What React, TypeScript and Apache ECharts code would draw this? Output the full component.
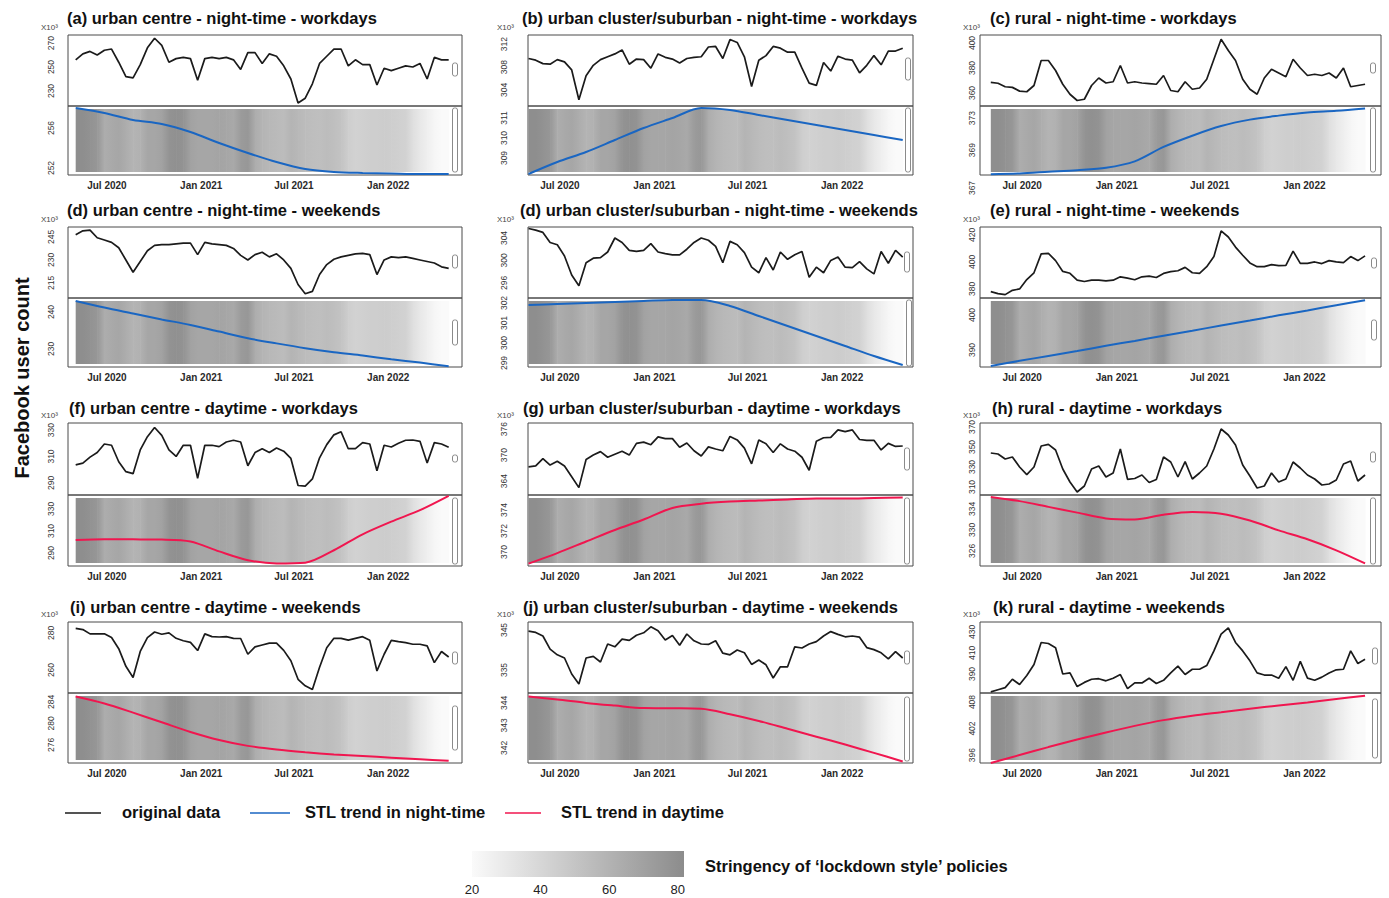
import { useEffect, useRef } from 'react';
import * as echarts from 'echarts';

const DAY = 86400000;
const START = Date.UTC(2020, 4, 1);
const STEP_DAYS = 14;

// Stringency of lockdown-style policies (biweekly)
const STRINGENCY = [79,79,77,74,62,64,66,62,58,60, 66,66,68,76,78,76,68,66,66,66, 67,66,64,72,74,62,58,56,55,54, 58,56,54,53,52,54,52,50,44,42, 43,44,44,45,44,43,42,35,30,26, 22,20,20];

// (a) urban centre - night-time - workdays
const A_ORIG = [256,261,263,260,264,265,254,242,241,252,266,274,268,254,257,258,257,239,257,258,257,258,256,248,262,262,253,261,259,251,240,220,224,236,253,259,265,265,251,256,252,252,235,249,247,249,251,250,253,240,258,256,256];
const A_TREND = [258.0,257.5,256.8,256.4,255.6,254.5,253.5,252.6,251.9,251.6,251.5,251.45,251.4,251.4];
// (b) urban cluster/suburban - night-time - workdays
const B_ORIG = [309.5,309.2,308.6,308.5,309.3,308.9,307.5,302.3,306.5,308.3,309.3,309.8,310.3,311,308.5,309.4,309.3,307.8,310.3,309.7,309.4,308.7,309.5,309.7,309.8,311.5,311.6,309.5,312.8,312.3,309.8,304.6,309.2,310,311.6,311.3,310.6,310.6,307.8,305.2,304.8,308.8,307.3,309.9,309.4,309.2,307,308.3,310,308.4,310.8,310.8,311.3];
const B_TREND = [308.2,308.8,309.3,309.9,310.5,311.0,311.5,311.4,311.15,310.9,310.65,310.4,310.15,309.9];
// (c) rural - night-time - workdays
const C_ORIG = [368.5,367.8,365,364.5,361.5,361,366,386,386,378,367,359,354,355,366,372,368,369,382,368,369,368,367.5,367,374,362,361,369,363,364,371,387,403,394,386,371,363,359,372,379,376,373,387,380,374,375,374,376,372,380,365,366,367];
const C_TREND = [366.0,366.1,366.3,366.5,366.8,367.6,369.4,370.8,372.0,372.8,373.3,373.7,373.9,374.2];
// (d) urban centre - night-time - weekends
const D_ORIG = [246.5,249,249.5,244.5,243,241.5,238,230,222,229,236,239.5,240,240,240.5,241,241,233.5,241.5,240.5,240,239.5,237.5,233,230,233.5,235,232,234,230,224.5,214,208,209.5,220.5,227,230.5,232,233,234,234.3,233.5,220.5,230,232,231.5,232,231,230,229,228,225.5,224.5];
const D_TREND = [243.0,241.2,239.6,238.0,236.5,234.7,232.9,231.5,230.2,229.1,228.2,227.2,226.3,225.3];
// (d) urban cluster/suburban - night-time - weekends
const D2_ORIG = [305.7,305.4,305.0,303.2,302.8,300.8,297.4,295.5,299.6,300.4,300.5,301.5,304,303.2,301.8,301.6,301.8,303,301.5,301.2,301.0,301,302,303.2,304,303.6,302.5,299.6,303.4,302.8,301.4,298.8,297.8,300.5,298.3,301.5,300.2,301,301.6,297,298.8,297.8,300,300.6,298.8,298.7,299.8,298.5,297.6,301.6,299.5,301.8,300.6];
const D2_TREND = [301.9,301.95,302.0,302.05,302.1,302.15,302.15,301.85,301.35,300.85,300.35,299.85,299.35,298.9];
// (e) rural - night-time - weekends
const E_ORIG = [378,376.5,375.8,379,380,387,392,406,406.4,401,393,391.6,386.5,385.5,386.5,386.5,386,386.5,389,388,386.8,389,389.5,388.5,391.5,392.8,393.5,396,392,391.6,396.5,404,423,418.5,411,405,399.3,396.5,396.5,398,397.3,397.5,408,399,399,400,398.8,401,400,399.5,404,401,404.5];
const E_TREND = [385.4,386.9,388.3,389.7,391.2,392.6,394.1,395.5,397.0,398.4,399.9,401.3,402.8,404.2];
// (f) urban centre - daytime - workdays
const F_ORIG = [303.6,305,309.5,313,319.5,318.5,306,298.5,297,315,325,332,326,315,310,318.5,318.5,293.5,318.5,318.5,317.5,321,322.3,321,303,313,315.9,313,316.5,314,308.5,288,287.5,293,309,319,326.4,328.7,315.9,315.9,320.5,319.5,299.2,318.5,317.2,320,322.3,322.5,321.5,305,320.5,319.5,317];
const F_TREND = [301.8,302.5,302.4,302.2,300.5,291.5,283.5,280.5,281.2,292.5,307.0,318.5,329.0,342.0];
// (g) urban cluster/suburban - daytime - workdays
const G_ORIG = [367.3,367.5,369.2,367.7,368.6,367.5,365,362.5,369,370,370.8,369.5,370.2,370.9,370,372.7,373,372.4,374.2,373.8,373.8,371.8,372.8,371,369.8,371.9,371.4,371,374.3,373.5,371.6,368,373.5,372.6,370.6,372.6,371.4,370.9,369.5,366.5,373.2,374,374.1,375.8,375.4,375.8,373.6,373.4,373.4,371.2,372.7,372,372.1];
const G_TREND = [368.9,369.9,371.0,372.1,373.1,374.2,374.6,374.8,374.9,375.0,375.1,375.1,375.15,375.2];
// (h) rural - daytime - workdays
const H_ORIG = [344,343,338,340,330,322.3,330,351,352.7,347,328,315,305,311,328,331,320,324,348,317.7,318.5,322,314.5,317.5,340,335,320,335.3,318,324,331,348,368,362,352,332,321,309,311,324,315,318,335,329,322,318,312,313,317,333,336,316,322];
const H_TREND = [336.3,335.5,334.4,333.3,332.2,332.0,332.9,333.4,333.1,331.8,329.9,328.2,326.1,323.6];
// (i) urban centre - daytime - weekends
const I_ORIG = [282.5,281.8,279.5,279.5,279.5,277.5,271.5,262,256,270,277.5,280.5,279.3,280,277.1,275.8,274.9,270.5,279.5,278,277.8,278,277.1,277,268.5,272.5,273.5,274.5,274.5,270.6,265,255,251.5,249.5,261.5,272,277.1,277.1,276.1,277.1,278,276,259.5,268.5,276,275.3,274.8,273.9,273.9,273,264,270,267];
const I_TREND = [285.0,283.7,282.0,280.2,278.4,276.9,275.8,275.1,274.6,274.2,273.9,273.6,273.3,273.0];
// (j) urban cluster/suburban - daytime - weekends
const J_ORIG = [344.7,344.4,343.5,340.2,338.8,338,334,331.5,338,338.4,337,341.5,340.8,342.7,342.4,343.7,344.3,345.8,344.8,342.5,343.6,341.2,344,342.3,341.5,341.4,342.3,339.2,338.8,340,339.3,336.4,337.5,336.3,333,335.8,335.8,340.8,340.5,341.5,342.1,343.5,344.6,343.9,343.3,343.5,343.2,340.6,340.1,339.3,337.8,339.6,338];
const J_TREND = [344.28,344.15,344.0,343.88,343.77,343.76,343.74,343.5,343.2,342.85,342.5,342.15,341.78,341.4];
// (k) rural - daytime - weekends
const K_ORIG = [373,375,377,385,380,388.5,399,420,419,415,390,391,378,382,385,385.5,383.5,386,389.5,376,381.5,381.5,386,381,384,391,397.5,389.5,394.5,394.5,398,412,428,434,420,412,402.5,391,389,389,386,397,384,402,386,384,387,391,394,394.5,412,400,404];
const K_TREND = [394.2,396.0,397.8,399.5,401.1,402.6,403.9,404.9,405.7,406.5,407.2,407.9,408.7,409.4];

const TITLES = [
  '(a) urban centre - night-time - workdays',
  '(b) urban cluster/suburban - night-time - workdays',
  '(c) rural - night-time - workdays',
  '(d) urban centre - night-time - weekends',
  '(d) urban cluster/suburban - night-time - weekends',
  '(e) rural - night-time - weekends',
  '(f) urban centre - daytime - workdays',
  '(g) urban cluster/suburban - daytime - workdays',
  '(h) rural - daytime - workdays',
  '(i) urban centre - daytime - weekends',
  '(j) urban cluster/suburban - daytime - weekends',
  '(k) rural - daytime - weekends',
];

const UP_TICKS = [[230,250,270],[304,308,312],[360,380,400],[215,230,245],[296,300,304],[380,400,420],[290,310,330],[364,370,376],[310,330,350,370],[260,280],[335,345],[390,410,430]];
const LO_TICKS = [[252,256],[309,310,311],[369,373],[230,240],[299,300,301,302],[390,400],[290,310,330],[370,372,374],[326,330,334],[276,280,284],[342,343,344],[396,402,408]];
const UP_RANGE = [[217.5,276.7],[301.2,313.6],[349.6,406.4],[205.2,251.5],[293.3,305.96],[373.3,425.9],[280.8,335.4],[360.8,377.4],[302,374],[247.6,285.9],[329.25,347],[371.9,439.5]];
const LO_RANGE = [[251.3,258.2],[308.15,311.6],[365.9,374.5],[225.1,243.8],[298.8,302.25],[385.14,404.86],[278.2,342.7],[368.67,375.43],[323.1,336.67],[272.6,285.67],[341.33,344.44],[394.2,410.04]];

const X_TICKS = [Date.UTC(2020, 6, 1), Date.UTC(2021, 0, 1), Date.UTC(2021, 6, 1), Date.UTC(2022, 0, 1)];
const MONTHS = ['Jan','Feb','Mar','Apr','May','Jun','Jul','Aug','Sep','Oct','Nov','Dec'];

const ORIGS = [A_ORIG, B_ORIG, C_ORIG, D_ORIG, D2_ORIG, E_ORIG, F_ORIG, G_ORIG, H_ORIG, I_ORIG, J_ORIG, K_ORIG];
const TRENDS = [A_TREND, B_TREND, C_TREND, D_TREND, D2_TREND, E_TREND, F_TREND, G_TREND, H_TREND, I_TREND, J_TREND, K_TREND];

// layout
const COLS = [
  { left: 68, right: 462, xmin: Date.UTC(2020, 3, 16), xmax: Date.UTC(2022, 4, 25), margin: 13, x10: 41 },
  { left: 528, right: 913, xmin: Date.UTC(2020, 3, 30), xmax: Date.UTC(2022, 4, 19), margin: 20, x10: 497 },
  { left: 980, right: 1381, xmin: Date.UTC(2020, 3, 10), xmax: Date.UTC(2022, 4, 30), margin: 4, x10: 963 },
];
const ROWS = [
  { top: 35, mid: 106, bottom: 175, titleY: 18 },
  { top: 227, mid: 298, bottom: 367, titleY: 210 },
  { top: 423, mid: 495, bottom: 566, titleY: 408 },
  { top: 622, mid: 693, bottom: 763, titleY: 607 },
];
const TITLE_X = [[67, 522, 990], [67, 520, 990], [69, 523, 992], [70, 523, 993]];
const RANGE_BARS = [
  [[455,63,76],[455,108,172]], [[908,58,80],[908,108,172]], [[1373,63,73],[1373,108,172]],
  [[455,255,268],[455,320,345]], [[907,252,272],[909,300,366]], [[1374,258,268],[1374,320,340]],
  [[455,455,462],[455,498,564]], [[907,448,470],[907,498,564]], [[1373,452,462],[1373,498,564]],
  [[455,652,664],[455,706,750]], [[907,651,664],[907,697,761]], [[1375,648,664],[1375,699,758]],
];

const FONT = '"Liberation Sans", Arial, Helvetica, sans-serif';
const BLUE = '#1a66c2';
const RED = '#f0164f';

function grayFor(s: number) {
  const t = Math.max(0, Math.min(1, (s - 20) / 60));
  const g = Math.round(250 - t * 110);
  return `rgb(${g},${g},${g})`;
}

function fmtDate(v: number) {
  const d = new Date(v);
  return MONTHS[d.getUTCMonth()] + ' ' + d.getUTCFullYear();
}

function buildOption() {
  const DATES = STRINGENCY.map((_, i) => START + i * STEP_DAYS * DAY);
  const TREND_DATES = A_TREND.map((_, k) => START + k * 4 * STEP_DAYS * DAY);
  const bands = STRINGENCY.slice(0, -1).map((s, i) => [DATES[i], DATES[i + 1], s, STRINGENCY[i + 1]]);

  const grids: any[] = [];
  const xAxes: any[] = [];
  const yAxes: any[] = [];
  const series: any[] = [];
  const elements: any[] = [];

  for (let p = 0; p < 12; p++) {
    const row = ROWS[Math.floor(p / 3)];
    const col = COLS[p % 3];
    const isDay = p >= 6;
    const gUp = grids.length;
    grids.push({ left: col.left, top: row.top, width: col.right - col.left, height: row.mid - row.top, show: true, borderColor: '#4a4a4a', borderWidth: 1, backgroundColor: 'transparent' });
    grids.push({ left: col.left, top: row.mid, width: col.right - col.left, height: row.bottom - row.mid, show: true, borderColor: '#4a4a4a', borderWidth: 1, backgroundColor: 'transparent' });
    const yLabel = { rotate: 90, fontSize: 8.5, color: '#333', margin: col.margin, fontFamily: FONT };
    xAxes.push({ type: 'value', gridIndex: gUp, min: col.xmin, max: col.xmax, axisLine: { show: false }, axisTick: { show: false }, axisLabel: { show: false }, splitLine: { show: false } });
    xAxes.push({ type: 'value', gridIndex: gUp + 1, min: col.xmin, max: col.xmax, axisLine: { show: false }, axisTick: { show: false }, splitLine: { show: false },
      axisLabel: { customValues: X_TICKS, formatter: (v: number) => fmtDate(v), fontSize: 10, fontWeight: 'bold', color: '#2a2a2a', margin: 5, fontFamily: FONT } });
    yAxes.push({ type: 'value', gridIndex: gUp, min: UP_RANGE[p][0], max: UP_RANGE[p][1], axisLine: { show: false }, axisTick: { show: false }, splitLine: { show: false },
      axisLabel: { ...yLabel, customValues: UP_TICKS[p] } });
    yAxes.push({ type: 'value', gridIndex: gUp + 1, min: LO_RANGE[p][0], max: LO_RANGE[p][1], axisLine: { show: false }, axisTick: { show: false }, splitLine: { show: false },
      axisLabel: { ...yLabel, customValues: LO_TICKS[p] } });

    series.push({
      type: 'line', name: 'original data', xAxisIndex: gUp, yAxisIndex: gUp,
      data: DATES.map((t, i) => [t, ORIGS[p][i]]), showSymbol: false, symbol: 'none',
      lineStyle: { color: '#1b1b1b', width: 1.7 }, z: 3,
    });
    series.push({
      type: 'custom', name: 'stringency', xAxisIndex: gUp + 1, yAxisIndex: gUp + 1,
      data: bands, encode: { x: [0, 1], y: 2 }, clip: true, z: 1, silent: true,
      renderItem: (params: any, api: any) => {
        const x0 = api.coord([api.value(0), LO_RANGE[p][0]])[0];
        const x1 = api.coord([api.value(1), LO_RANGE[p][0]])[0];
        const cs = params.coordSys;
        return {
          type: 'rect',
          shape: { x: x0, y: cs.y + 3, width: Math.max(0, x1 - x0 + 0.6), height: cs.height - 6 },
          style: { fill: new echarts.graphic.LinearGradient(0, 0, 1, 0, [
            { offset: 0, color: grayFor(api.value(2)) },
            { offset: 1, color: grayFor(api.value(3)) },
          ]) },
        };
      },
    });
    series.push({
      type: 'line', name: isDay ? 'STL trend in daytime' : 'STL trend in night-time', xAxisIndex: gUp + 1, yAxisIndex: gUp + 1,
      data: TREND_DATES.map((t, k) => [t, TRENDS[p][k]]), showSymbol: false, symbol: 'none', smooth: 0.3,
      lineStyle: { color: isDay ? RED : BLUE, width: 2 }, z: 4,
    });

    elements.push({ type: 'text', x: TITLE_X[Math.floor(p / 3)][p % 3], y: row.titleY, style: { text: TITLES[p], font: `bold 16.5px ${FONT}`, fill: '#111', align: 'left', verticalAlign: 'middle' } });
    elements.push({ type: 'text', x: col.x10, y: row.top - 8, style: { text: 'X10³', font: `8px ${FONT}`, fill: '#444', align: 'left', verticalAlign: 'middle' } });
    RANGE_BARS[p].forEach(([bx, y0, y1]) => {
      elements.push({ type: 'rect', shape: { x: bx - 2.5, y: y0, width: 5, height: y1 - y0, r: 2 }, style: { fill: '#fff', stroke: '#8a8a8a', lineWidth: 1 } });
    });
  }

  elements.push({ type: 'text', x: 972, y: 188, rotation: Math.PI / 2, style: { text: '367', font: `8.5px ${FONT}`, fill: '#333', align: 'center', verticalAlign: 'middle' } });
  elements.push({ type: 'text', x: 22, y: 378, rotation: Math.PI / 2, style: { text: 'Facebook user count', font: `bold 20px ${FONT}`, fill: '#111', align: 'center', verticalAlign: 'middle' } });

  const legendItems = [
    { x1: 65, x2: 101, color: '#1b1b1b', w: 1.6, tx: 122, text: 'original data' },
    { x1: 250, x2: 290, color: BLUE, w: 1.6, tx: 305, text: 'STL trend in night-time' },
    { x1: 505, x2: 541, color: RED, w: 1.6, tx: 561, text: 'STL trend in daytime' },
  ];
  legendItems.forEach((l) => {
    elements.push({ type: 'line', shape: { x1: l.x1, y1: 813, x2: l.x2, y2: 813 }, style: { stroke: l.color, lineWidth: l.w } });
    elements.push({ type: 'text', x: l.tx, y: 812, style: { text: l.text, font: `bold 16.5px ${FONT}`, fill: '#111', align: 'left', verticalAlign: 'middle' } });
  });

  elements.push({ type: 'rect', shape: { x: 472, y: 851, width: 212, height: 26 },
    style: { fill: new echarts.graphic.LinearGradient(0, 0, 1, 0, [{ offset: 0, color: grayFor(20) }, { offset: 1, color: grayFor(80) }]) } });
  [20, 40, 60, 80].forEach((v) => {
    elements.push({ type: 'text', x: 472 + (v - 20) * 3.43, y: 889, style: { text: String(v), font: `13px ${FONT}`, fill: '#222', align: 'center', verticalAlign: 'middle' } });
  });
  elements.push({ type: 'text', x: 705, y: 866, style: { text: 'Stringency of ‘lockdown style’ policies', font: `bold 16.5px ${FONT}`, fill: '#111', align: 'left', verticalAlign: 'middle' } });

  return {
    animation: false,
    backgroundColor: '#ffffff',
    textStyle: { fontFamily: FONT },
    grid: grids,
    xAxis: xAxes,
    yAxis: yAxes,
    series,
    graphic: { elements },
  };
}

export default function App() {
  const ref = useRef<HTMLDivElement>(null);
  useEffect(() => {
    if (!ref.current) return;
    const chart = echarts.init(ref.current, null, { renderer: 'svg' });
    chart.setOption(buildOption() as any);
    return () => chart.dispose();
  }, []);
  return <div ref={ref} style={{ position: 'absolute', left: 0, top: 0, width: 1389, height: 898, background: '#fff' }} />;
}
